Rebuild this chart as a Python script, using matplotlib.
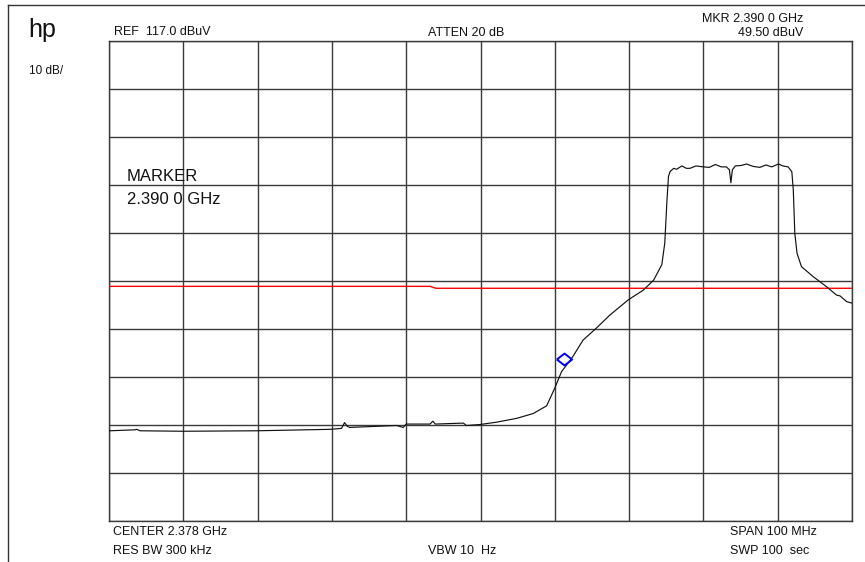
import matplotlib
matplotlib.use("Agg")
import matplotlib.pyplot as plt
from matplotlib.lines import Line2D

# ---------------- data ----------------
freq_mhz = [2328.1, 2331.5, 2331.7, 2332.2, 2338.0, 2347.9, 2357.7, 2359.3, 2359.7,
            2360.1, 2360.4, 2366.7, 2367.6, 2368.0, 2371.2, 2371.6, 2371.9, 2375.7,
            2376.1, 2377.9, 2380.2, 2382.9, 2385.1, 2386.9, 2388.0, 2388.9, 2390.4,
            2391.8, 2393.6, 2395.4, 2397.9, 2399.9, 2401.3, 2402.4, 2402.8, 2403.1,
            2403.3, 2403.5, 2404.0, 2404.4, 2405.1, 2405.7, 2406.2, 2407.0, 2408.0,
            2408.8, 2409.6, 2410.4, 2411.1, 2411.5, 2411.7, 2411.9, 2412.3, 2413.1,
            2413.8, 2414.7, 2415.6, 2416.4, 2417.2, 2418.1, 2418.7, 2419.4, 2419.9,
            2420.1, 2420.3, 2420.6, 2421.2, 2422.8, 2424.6, 2425.9, 2426.4, 2427.3,
            2428.0]
level_dbuv = [35.7, 35.9, 36.0, 35.7, 35.6, 35.7, 36.0, 36.2, 37.4,
              36.6, 36.4, 36.8, 36.4, 37.1, 37.1, 37.7, 37.1, 37.3,
              36.8, 37.0, 37.5, 38.3, 39.3, 40.9, 44.6, 48.0, 51.1,
              54.6, 57.1, 59.8, 63.0, 65.0, 67.1, 70.3, 74.8, 83.8,
              88.7, 89.7, 90.4, 90.2, 90.9, 90.4, 90.4, 90.9, 90.7,
              90.6, 91.2, 90.7, 90.7, 90.1, 87.4, 90.1, 90.9, 91.0,
              91.3, 90.8, 90.6, 91.1, 90.7, 91.3, 90.9, 90.7, 89.7,
              85.9, 76.9, 72.7, 69.9, 67.8, 65.7, 64.0, 63.8, 62.6,
              62.3]

limit_freq = [2328.0, 2371.2, 2372.0, 2428.0]
limit_level = [65.8, 65.8, 65.4, 65.4]

marker_freq = 2389.3
marker_level = 50.7

center_mhz = 2378.0
span_mhz = 100.0
ref_level = 117.0
db_per_div = 10.0
n_div = 10

# ---------------- figure ----------------
W, H = 865, 562
fig = plt.figure(figsize=(W / 100, H / 100), dpi=100)
fig.patch.set_facecolor("white")

FONT = ["Liberation Sans", "DejaVu Sans"]


def px(x, y):
    return x / W, 1 - y / H


ax = fig.add_axes([109 / W, 1 - 520.5 / H, 743 / W, 479.8 / H])
x0 = center_mhz - span_mhz / 2
x1 = center_mhz + span_mhz / 2
y1 = ref_level
y0 = ref_level - db_per_div * n_div
ax.set_xlim(x0, x1)
ax.set_ylim(y0, y1)
ax.set_xticks([x0 + i * span_mhz / n_div for i in range(n_div + 1)])
ax.set_yticks([y0 + i * db_per_div for i in range(n_div + 1)])
ax.tick_params(length=0, labelbottom=False, labelleft=False)
ax.grid(True, color="#3a3a3a", linewidth=1.0)
for s in ax.spines.values():
    s.set_color("#3a3a3a")
    s.set_linewidth(1.0)

ax.plot(limit_freq, limit_level, color="#ff0000", linewidth=1.0, zorder=3)
ax.plot(freq_mhz, level_dbuv, color="#111111", linewidth=0.85, zorder=4)

diamond = [(-1, 0), (0, 0.78), (1, 0), (0, -0.78), (-1, 0)]
ax.plot([marker_freq], [marker_level], marker=diamond, markersize=11,
        markerfacecolor="none", markeredgecolor="#0000ff", markeredgewidth=1.4,
        linestyle="none", zorder=5)

# outer frame
fig.add_artist(Line2D([8 / W, 8 / W], [0, 1 - 5 / H], transform=fig.transFigure,
                      color="#333333", linewidth=1.0))
fig.add_artist(Line2D([8 / W, 1], [1 - 5 / H, 1 - 5 / H], transform=fig.transFigure,
                      color="#333333", linewidth=1.0))

# texts
def t(x, y, s, size=9, ha="left"):
    fig.text(*px(x, y), s, fontsize=size, ha=ha, va="baseline", family=FONT, color="#111111")

t(28, 37, "hp", size=18)
t(29, 74, "10 dB/", size=8.5)
t(114, 35, "REF  117.0 dBuV")
t(466.5, 36, "ATTEN 20 dB", ha="center")
t(803, 22, "MKR 2.390 0 GHz", ha="right")
t(803, 36, "49.50 dBuV", ha="right")
t(127, 181, "MARKER", size=12)
t(127, 204, "2.390 0 GHz", size=12)
t(113, 535, "CENTER 2.378 GHz")
t(113, 554, "RES BW 300 kHz")
t(428, 554, "VBW 10  Hz")
t(730, 535, "SPAN 100 MHz")
t(730, 554, "SWP 100  sec")

fig.savefig("out.png", dpi=100)
